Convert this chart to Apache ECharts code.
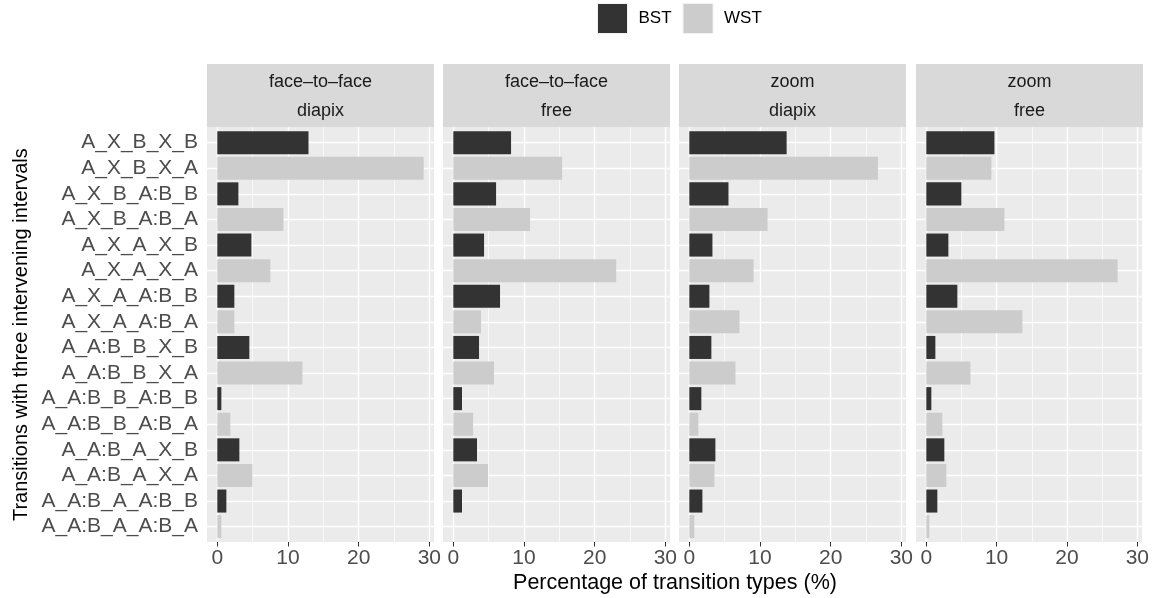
<!DOCTYPE html>
<html><head><meta charset="utf-8">
<script src="https://cdn.jsdelivr.net/npm/echarts@6/dist/echarts.min.js"></script>
<style>html,body{margin:0;padding:0;background:#fff}#c{width:1152px;height:598px}</style>
</head><body><div id="c"></div>
<script>
// ---------- data ----------
const categories = ['A_X_B_X_B','A_X_B_X_A','A_X_B_A:B_B','A_X_B_A:B_A','A_X_A_X_B','A_X_A_X_A','A_X_A_A:B_B','A_X_A_A:B_A',
  'A_A:B_B_X_B','A_A:B_B_X_A','A_A:B_B_A:B_B','A_A:B_B_A:B_A','A_A:B_A_X_B','A_A:B_A_X_A','A_A:B_A_A:B_B','A_A:B_A_A:B_A'];
const transitionType = categories.map(c => c.endsWith('_B') ? 'BST' : 'WST');
const seriesNames = ['BST', 'WST'];
const facetMode = ['face\u2013to\u2013face', 'face\u2013to\u2013face', 'zoom', 'zoom'];
const facetTask = ['diapix', 'free', 'diapix', 'free'];
const f2fDiapix = [12.9, 29.2, 2.98, 9.35, 4.82, 7.51, 2.41, 2.41, 4.53, 12.05, 0.57, 1.84, 3.12, 4.96, 1.28, 0.57];
const f2fFree   = [8.17, 15.4, 6.05, 10.86, 4.35, 23.05, 6.61, 3.92, 3.64, 5.76, 1.23, 2.79, 3.35, 4.91, 1.23, 0];
const zoomDiapix = [13.77, 26.69, 5.54, 11.07, 3.27, 9.09, 2.84, 7.10, 3.12, 6.53, 1.70, 1.28, 3.69, 3.55, 1.85, 0.71];
const zoomFree  = [9.64, 9.21, 4.96, 11.05, 3.12, 27.07, 4.39, 13.60, 1.28, 6.24, 0.71, 2.27, 2.55, 2.83, 1.56, 0.43];
const panelValues = [f2fDiapix, f2fFree, zoomDiapix, zoomFree];
const xMajorTicks = [0, 10, 20, 30];
const xMinorTicks = [5, 15, 25];

// ---------- layout / style ----------
const FONT = '"Liberation Sans", Arial, Helvetica, sans-serif';
const colors = { BST: '#333333', WST: '#CCCCCC' };
const panelLeft = [207, 443, 679, 916];
const panelW = 227;
const panelTop = 127.3, panelBottom = 542;
const stripTop = 64;
const nCat = categories.length;
const unit = (panelBottom - panelTop) / (nCat - 1 + 1.2);
const innerTop = panelTop + 0.1 * unit;
const innerH = nCat * unit;
const dataMax = Math.max(...panelValues.flat());
const xMin = -0.05 * dataMax, xMax = 1.05 * dataMax;

const grid = [], xAxis = [], yAxis = [], series = [], graphic = [];

panelValues.forEach((vals, p) => {
  const bg = 2 * p, fg = 2 * p + 1;
  // background grid (full panel)
  grid.push({ left: panelLeft[p], top: panelTop, width: panelW, height: panelBottom - panelTop,
    show: true, backgroundColor: '#EBEBEB', borderWidth: 0 });
  xAxis.push({ type: 'value', gridIndex: bg, min: xMin, max: xMax,
    axisLine: { show: false }, splitLine: { show: false },
    axisTick: { show: true, customValues: xMajorTicks, length: 4.5, lineStyle: { color: '#333333', width: 1 } },
    axisLabel: { customValues: xMajorTicks, color: '#4D4D4D', fontSize: 21, margin: 6, fontFamily: FONT } });
  yAxis.push({ type: 'value', gridIndex: bg, min: 0, max: 1, show: false });
  series.push({ type: 'scatter', xAxisIndex: bg, yAxisIndex: bg, data: [], silent: true,
    markLine: { silent: true, symbol: 'none', z: 1, animation: false, label: { show: false },
      emphasis: { disabled: true },
      data: [
        ...xMinorTicks.map(v => ({ xAxis: v, lineStyle: { color: '#FFFFFF', width: 0.7, type: 'solid' } })),
        ...xMajorTicks.map(v => ({ xAxis: v, lineStyle: { color: '#FFFFFF', width: 1.4, type: 'solid' } }))
      ] } });
  // foreground grid (category bands)
  grid.push({ left: panelLeft[p], top: innerTop, width: panelW, height: innerH, show: false });
  xAxis.push({ type: 'value', gridIndex: fg, min: xMin, max: xMax, show: false });
  yAxis.push({ type: 'category', gridIndex: fg, data: categories, inverse: true, show: p === 0,
    axisLine: { show: false }, splitLine: { show: false },
    axisTick: { show: p === 0, interval: 0, alignWithLabel: true, length: 4.5, lineStyle: { color: '#333333', width: 1 } },
    axisLabel: { show: p === 0, interval: 0, color: '#4D4D4D', fontSize: 21, margin: 9, fontFamily: FONT } });
  seriesNames.forEach((name, k) => {
    const s = { type: 'bar', name, xAxisIndex: fg, yAxisIndex: fg, barWidth: '90%', barGap: '-100%', z: 2,
      itemStyle: { color: colors[name] }, silent: true,
      data: vals.map((v, i) => transitionType[i] === name ? v : '-') };
    if (k === 0) {
      s.markLine = { silent: true, symbol: 'none', z: 1, animation: false, label: { show: false },
        emphasis: { disabled: true },
        data: categories.map(c => ({ yAxis: c, lineStyle: { color: '#FFFFFF', width: 1.4, type: 'solid' } })) };
    }
    series.push(s);
  });
  // strip
  graphic.push({ type: 'rect', left: panelLeft[p], top: stripTop, shape: { width: panelW, height: panelTop - stripTop },
    style: { fill: '#D9D9D9' }, silent: true });
  graphic.push({ type: 'text', x: panelLeft[p] + panelW / 2, y: 82, silent: true,
    style: { text: facetMode[p], fill: '#1A1A1A', fontSize: 18, fontFamily: FONT, align: 'center', verticalAlign: 'middle' } });
  graphic.push({ type: 'text', x: panelLeft[p] + panelW / 2, y: 111, silent: true,
    style: { text: facetTask[p], fill: '#1A1A1A', fontSize: 18, fontFamily: FONT, align: 'center', verticalAlign: 'middle' } });
});

graphic.push({ type: 'text', x: (panelLeft[0] + panelLeft[3] + panelW) / 2, y: 583, silent: true,
  style: { text: 'Percentage of transition types (%)', fill: '#000000', fontSize: 21.5, fontFamily: FONT, align: 'center', verticalAlign: 'middle' } });
graphic.push({ type: 'text', x: 21.5, y: (panelTop + panelBottom) / 2, rotation: Math.PI / 2, silent: true,
  style: { text: 'Transitions with three intervening intervals', fill: '#000000', fontSize: 20, fontFamily: FONT, align: 'center', verticalAlign: 'middle' } });

const chart = echarts.init(document.getElementById('c'), null, { renderer: 'canvas' });
chart.setOption({
  animation: false,
  backgroundColor: '#FFFFFF',
  legend: { data: seriesNames, left: 597, top: 3, padding: 0, itemWidth: 30, itemHeight: 30, itemGap: 11, icon: 'rect',
    selectedMode: false, itemStyle: { borderColor: '#F2F2F2', borderWidth: 1 },
    textStyle: { fontSize: 17, color: '#000000', fontFamily: FONT, padding: [0, 0, 0, 6] } },
  grid, xAxis, yAxis, series, graphic
});
</script></body></html>
